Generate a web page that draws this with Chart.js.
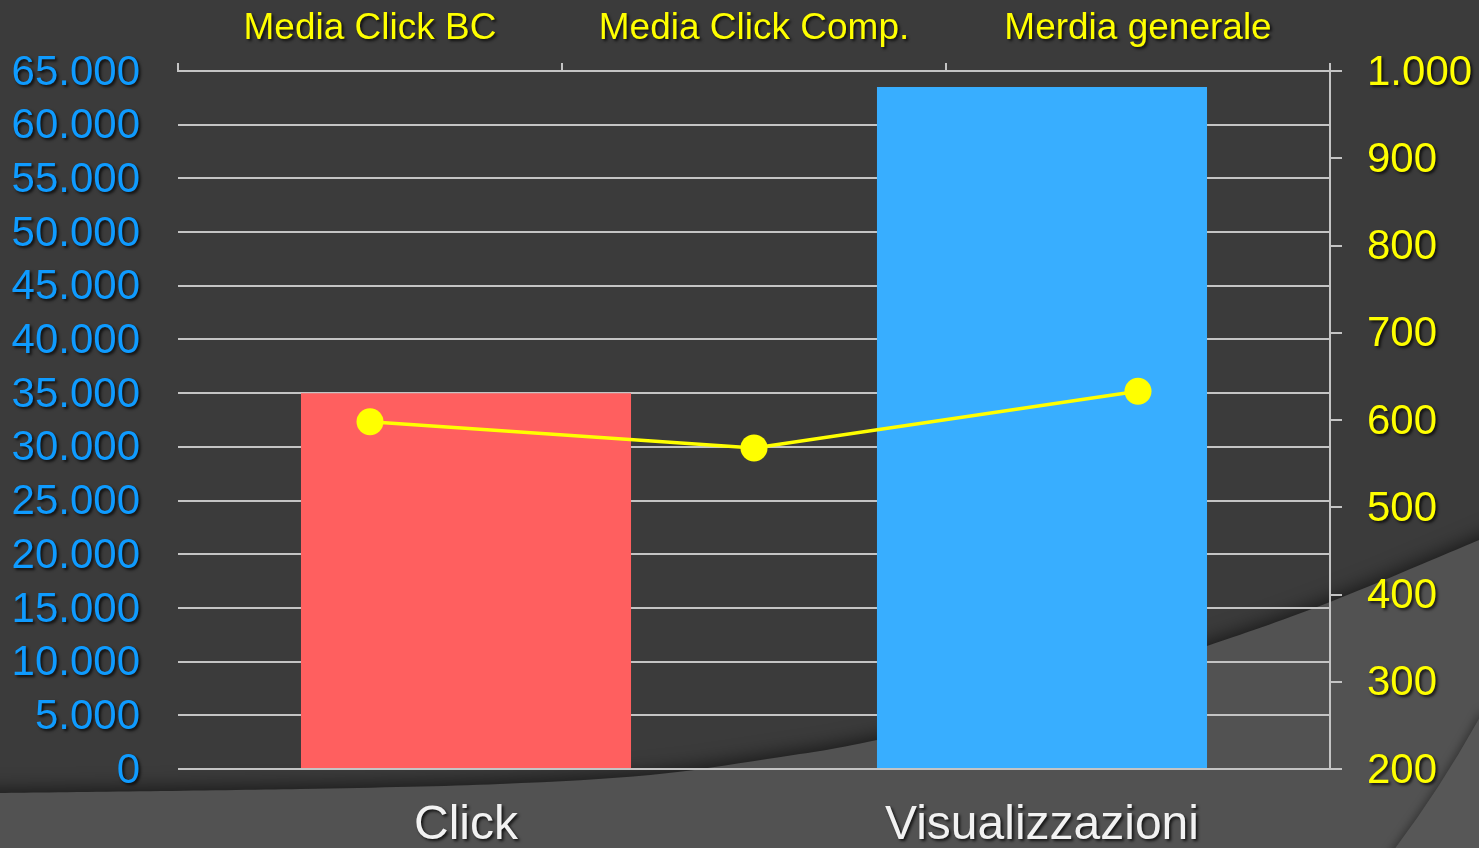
<!DOCTYPE html>
<html><head><meta charset="utf-8">
<script src="https://cdn.jsdelivr.net/npm/chart.js@4.4.0/dist/chart.umd.min.js"></script>
<style>html,body{margin:0;padding:0;background:#3b3b3b;overflow:hidden}#wrap{width:1479px;height:848px}</style>
</head><body><div id="wrap"><canvas id="c" width="1479" height="848"></canvas></div>
<script>
// ---- data ----
const categories = ['Click', 'Visualizzazioni'];
const barValues = [35000, 63500];
const barColors = ['#FF5F5F', '#38AEFF'];
const lineCategories = ['Media Click BC', 'Media Click Comp.', 'Merdia generale'];
const lineValues = [598, 568, 633];
const leftAxisRange = [0, 65000, 5000];
const rightAxisRange = [200, 1000, 100];

const FONT = '"Liberation Sans", Arial, sans-serif';
const GRID = '#c4c4c4';
const fmt = v => String(v).replace(/\B(?=(\d{3})+(?!\d))/g, '.');

// decorative background curve (slide template swoosh)
const swoosh = [[-30,793],[0,793],[300,789],[500,784],[650,775],[767,759],[877,740],[1050,697],[1207,646],[1330,602],[1479,540],[1520,522]];

function smoothPath(ctx, pts) {
  ctx.moveTo(pts[0][0], pts[0][1]);
  for (let i = 0; i < pts.length - 1; i++) {
    const p0 = pts[Math.max(0, i - 1)], p1 = pts[i], p2 = pts[i + 1], p3 = pts[Math.min(pts.length - 1, i + 2)];
    const c1x = p1[0] + (p2[0] - p0[0]) / 6, c1y = p1[1] + (p2[1] - p0[1]) / 6;
    const c2x = p2[0] - (p3[0] - p1[0]) / 6, c2y = p2[1] - (p3[1] - p1[1]) / 6;
    ctx.bezierCurveTo(c1x, c1y, c2x, c2y, p2[0], p2[1]);
  }
}

const bgPlugin = {
  id: 'bg',
  beforeDraw(chart) {
    const ctx = chart.ctx, W = chart.width, H = chart.height;
    ctx.save();
    ctx.fillStyle = '#3b3b3b';
    ctx.fillRect(0, 0, W, H);
    ctx.shadowColor = 'rgba(0,0,0,0.55)';
    ctx.shadowBlur = 18;
    ctx.shadowOffsetY = -4;
    ctx.beginPath();
    smoothPath(ctx, swoosh);
    ctx.lineTo(1520, H + 40);
    ctx.lineTo(-30, H + 40);
    ctx.closePath();
    ctx.fillStyle = '#525252';
    ctx.fill();
    ctx.shadowColor = 'rgba(0,0,0,0.35)';
    ctx.shadowBlur = 8;
    ctx.shadowOffsetX = -3;
    ctx.shadowOffsetY = 0;
    ctx.beginPath();
    ctx.moveTo(1485, 708);
    ctx.quadraticCurveTo(1440, 790, 1390, 855);
    ctx.lineTo(1500, 855);
    ctx.closePath();
    ctx.fillStyle = '#575757';
    ctx.fill();
    ctx.restore();
  },
  afterDatasetsDraw(chart) {
    const ctx = chart.ctx;
    ctx.shadowColor = 'rgba(0,0,0,0.75)';
    ctx.shadowBlur = 3;
    ctx.shadowOffsetX = 2;
    ctx.shadowOffsetY = 2;
  },
  afterDraw(chart) {
    const ctx = chart.ctx;
    ctx.shadowColor = 'rgba(0,0,0,0)';
    ctx.shadowBlur = 0;
    ctx.shadowOffsetX = 0;
    ctx.shadowOffsetY = 0;
  }
};

new Chart(document.getElementById('c'), {
  type: 'bar',
  data: {
    labels: categories,
    datasets: [
      {
        type: 'line',
        data: lineValues,
        xAxisID: 'x2',
        yAxisID: 'y2',
        borderColor: '#FFFF00',
        borderWidth: 3.5,
        pointRadius: 13.5,
        pointBackgroundColor: '#FFFF00',
        pointBorderWidth: 0,
        tension: 0,
        order: 0
      },
      {
        type: 'bar',
        data: barValues,
        xAxisID: 'x',
        yAxisID: 'y',
        backgroundColor: barColors,
        borderWidth: 0,
        grouped: false,
        barPercentage: 0.573,
        categoryPercentage: 1,
        order: 1
      }
    ]
  },
  options: {
    responsive: false,
    animation: false,
    devicePixelRatio: 1,
    layout: { padding: 0 },
    plugins: { legend: { display: false }, tooltip: { enabled: false } },
    scales: {
      x: {
        type: 'category',
        position: 'bottom',
        labels: categories,
        offset: true,
        grid: { display: false, drawTicks: false },
        border: { display: false },
        ticks: { z: 1, color: '#f2f2f2', font: { family: FONT, size: 48 }, padding: 28, maxRotation: 0 },
        afterFit: s => { s.height = 79; }
      },
      x2: {
        type: 'category',
        position: 'top',
        labels: lineCategories,
        offset: true,
        grid: { offset: true, drawOnChartArea: false, drawTicks: true, tickLength: 8, color: GRID, lineWidth: 2 },
        border: { display: true, color: GRID, width: 2 },
        ticks: { z: 1, color: '#FFFF00', font: { family: FONT, size: 37 }, padding: 12, maxRotation: 0 },
        afterFit: s => { s.height = 71; }
      },
      y: {
        position: 'left',
        min: leftAxisRange[0],
        max: leftAxisRange[1],
        ticks: { z: 1, stepSize: leftAxisRange[2], color: '#0f9bff', font: { family: FONT, size: 42 }, padding: 38, labelOffset: 2, callback: v => fmt(v) },
        grid: { color: GRID, lineWidth: 2, drawTicks: false },
        border: { display: false },
        afterFit: s => { s.width = 178; }
      },
      y2: {
        position: 'right',
        min: rightAxisRange[0],
        max: rightAxisRange[1],
        ticks: { z: 1, stepSize: rightAxisRange[2], color: '#FFFF00', font: { family: FONT, size: 42 }, padding: 25, labelOffset: 2, callback: v => fmt(v) },
        grid: { drawOnChartArea: false, drawTicks: true, tickLength: 12, color: GRID, lineWidth: 2 },
        border: { display: true, color: GRID, width: 2 },
        afterFit: s => { s.width = 149; }
      }
    }
  },
  plugins: [bgPlugin]
});
</script>
</body></html>
